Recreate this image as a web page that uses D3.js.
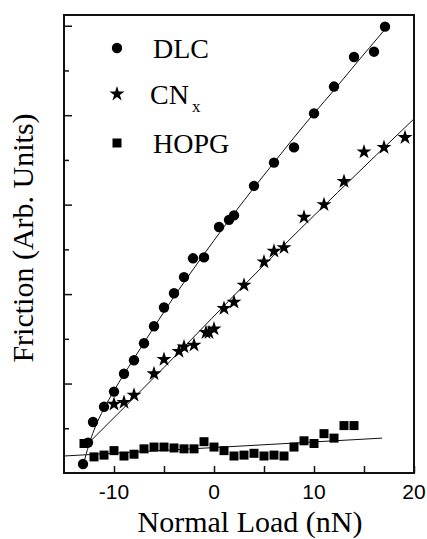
<!DOCTYPE html>
<html>
<head>
<meta charset="utf-8">
<script src="https://cdn.jsdelivr.net/npm/d3@7"></script>
<style>
  body { margin: 0; background: #fff; }
  svg { display: block; }
</style>
</head>
<body>
<div id="chart"></div>
<script>
// friction vs normal load, three films
var dlcLoad = [-13.1, -12.6, -12.1, -11, -10, -9, -8, -7, -6, -5, -4, -3, -2.1, -1, 0.5, 1.5, 2, 4, 6, 8, 10, 12, 14, 16, 17.1];
var dlcFriction = [0.10, 0.34, 0.57, 0.74, 0.91, 1.11, 1.26, 1.45, 1.64, 1.85, 2.01, 2.19, 2.40, 2.41, 2.75, 2.83, 2.88, 3.21, 3.47, 3.64, 4.02, 4.32, 4.65, 4.71, 4.99];

var cnxLoad = [-10, -9, -8, -6, -5, -3.5, -3, -2, -0.8, -0.5, 0, 1, 2, 3, 5, 6, 7, 9, 11, 13, 15, 17, 19.1];
var cnxFriction = [0.77, 0.79, 0.87, 1.11, 1.27, 1.36, 1.41, 1.43, 1.57, 1.57, 1.61, 1.84, 1.91, 2.10, 2.36, 2.48, 2.52, 2.86, 3.00, 3.26, 3.59, 3.64, 3.75];

var hopgLoad = [-13, -12, -11, -10, -9, -8, -7, -6, -5, -4, -3, -2, -1, 0, 1, 2, 3, 4, 5, 6, 7, 8, 9, 10, 11, 12, 13, 14];
var hopgFriction = [0.33, 0.18, 0.20, 0.25, 0.19, 0.21, 0.27, 0.29, 0.29, 0.28, 0.27, 0.27, 0.35, 0.29, 0.25, 0.19, 0.20, 0.22, 0.19, 0.20, 0.19, 0.29, 0.36, 0.33, 0.44, 0.39, 0.53, 0.53];

// fitted curves
var dlcFitLoad = [-13.1, -12.5, -12, -11, -10, -8, -6, -4, -2, 0, 2, 4, 6, 8, 10, 12, 14, 17.1];
var dlcFitFriction = [0.08, 0.32, 0.48, 0.72, 0.92, 1.28, 1.63, 1.97, 2.29, 2.60, 2.90, 3.19, 3.47, 3.75, 4.02, 4.28, 4.55, 4.96];
var cnxFitLoad = [-12.5, -5, 4.6, 20.1];
var cnxFitFriction = [0.34, 1.18, 2.28, 3.97];
var hopgFitLoad = [-15, 16.8];
var hopgFitFriction = [0.19, 0.39];

var xTickLabels = [-10, 0, 10, 20];
var legendLabels = ["DLC", "CN", "HOPG"];

var width = 427, height = 539;
var svg = d3.select("#chart").append("svg")
    .attr("width", width)
    .attr("height", height);

var x = d3.scaleLinear().domain([-15, 20]).range([64, 414]);
var y = d3.scaleLinear().domain([0, 5.12]).range([473, 15]);

function zip(xs, ys) {
    return xs.map(function (v, i) { return [v, ys[i]]; });
}

// frame
svg.append("rect")
    .attr("x", x(-15))
    .attr("y", y(5.12))
    .attr("width", x(20) - x(-15))
    .attr("height", y(0) - y(5.12))
    .attr("fill", "none")
    .attr("stroke", "#111")
    .attr("stroke-width", 2);

// bottom ticks (inward)
var xAxis = d3.axisBottom(x)
    .tickValues(d3.range(-10, 21, 5))
    .tickSize(-7)
    .tickFormat("");
var gx = svg.append("g")
    .attr("transform", "translate(0," + y(0) + ")")
    .call(xAxis);
gx.select(".domain").remove();
gx.selectAll("line").attr("stroke", "#111").attr("stroke-width", 1.5);

svg.selectAll(".xlab")
    .data(xTickLabels)
    .enter().append("text")
    .attr("class", "xlab")
    .attr("x", function (d) { return x(d); })
    .attr("y", 499)
    .attr("text-anchor", "middle")
    .style("font-family", "'Liberation Sans', Arial, sans-serif")
    .style("font-size", "21px")
    .text(function (d) { return d < 0 ? "-" + Math.abs(d) : d; });

// left ticks (inward), major every 1, minor every 0.5
var yAxis = d3.axisLeft(y)
    .tickValues(d3.range(0.5, 5.1, 0.5))
    .tickSize(0)
    .tickFormat("");
var gy = svg.append("g")
    .attr("transform", "translate(" + x(-15) + ",0)")
    .call(yAxis);
gy.select(".domain").remove();
gy.selectAll(".tick line")
    .attr("x2", function (d) { return Math.abs(d % 1) < 0.01 ? 8 : 5; })
    .attr("stroke", "#111")
    .attr("stroke-width", 1.5);

// fit lines
var line = d3.line()
    .x(function (d) { return x(d[0]); })
    .y(function (d) { return y(d[1]); })
    .curve(d3.curveMonotoneX);

[zip(dlcFitLoad, dlcFitFriction), zip(cnxFitLoad, cnxFitFriction), zip(hopgFitLoad, hopgFitFriction)]
    .forEach(function (pts) {
        svg.append("path")
            .attr("d", line(pts))
            .attr("fill", "none")
            .attr("stroke", "#111")
            .attr("stroke-width", 1);
    });

// markers
svg.selectAll(".dlc")
    .data(zip(dlcLoad, dlcFriction))
    .enter().append("circle")
    .attr("class", "dlc")
    .attr("cx", function (d) { return x(d[0]); })
    .attr("cy", function (d) { return y(d[1]); })
    .attr("r", 5.2)
    .attr("fill", "#000");

var star = d3.symbol().type(d3.symbolStar).size(70);
svg.selectAll(".cnx")
    .data(zip(cnxLoad, cnxFriction))
    .enter().append("path")
    .attr("class", "cnx")
    .attr("d", star)
    .attr("transform", function (d) { return "translate(" + x(d[0]) + "," + y(d[1]) + ")"; })
    .attr("fill", "#000");

var sq = 9;
svg.selectAll(".hopg")
    .data(zip(hopgLoad, hopgFriction))
    .enter().append("rect")
    .attr("class", "hopg")
    .attr("x", function (d) { return x(d[0]) - sq / 2; })
    .attr("y", function (d) { return y(d[1]) - sq / 2; })
    .attr("width", sq)
    .attr("height", sq)
    .attr("fill", "#000");

// legend
var serif = "'Liberation Serif', 'Times New Roman', serif";
var legendRows = [48, 94, 143];
var lg = svg.append("g");
lg.append("circle").attr("cx", 117).attr("cy", legendRows[0]).attr("r", 5.2).attr("fill", "#000");
lg.append("path").attr("d", star).attr("transform", "translate(117," + legendRows[1] + ")").attr("fill", "#000");
lg.append("rect").attr("x", 117 - sq / 2).attr("y", legendRows[2] - sq / 2).attr("width", sq).attr("height", sq).attr("fill", "#000");

lg.selectAll(".leg")
    .data(legendLabels)
    .enter().append("text")
    .attr("class", "leg")
    .attr("x", function (d, i) { return i === 1 ? 150 : 153; })
    .attr("y", function (d, i) { return legendRows[i] + 10; })
    .style("font-family", serif)
    .style("font-size", "28px")
    .text(function (d) { return d; });
lg.append("text")
    .attr("x", 192)
    .attr("y", 112)
    .style("font-family", serif)
    .style("font-size", "17px")
    .text("x");

// axis titles
svg.append("text")
    .attr("x", 250)
    .attr("y", 532)
    .attr("text-anchor", "middle")
    .style("font-family", serif)
    .style("font-size", "30px")
    .text("Normal Load (nN)");

svg.append("text")
    .attr("transform", "translate(33," + 238 + ") rotate(-90)")
    .attr("text-anchor", "middle")
    .style("font-family", serif)
    .style("font-size", "30px")
    .text("Friction (Arb. Units)");
</script>
</body>
</html>
